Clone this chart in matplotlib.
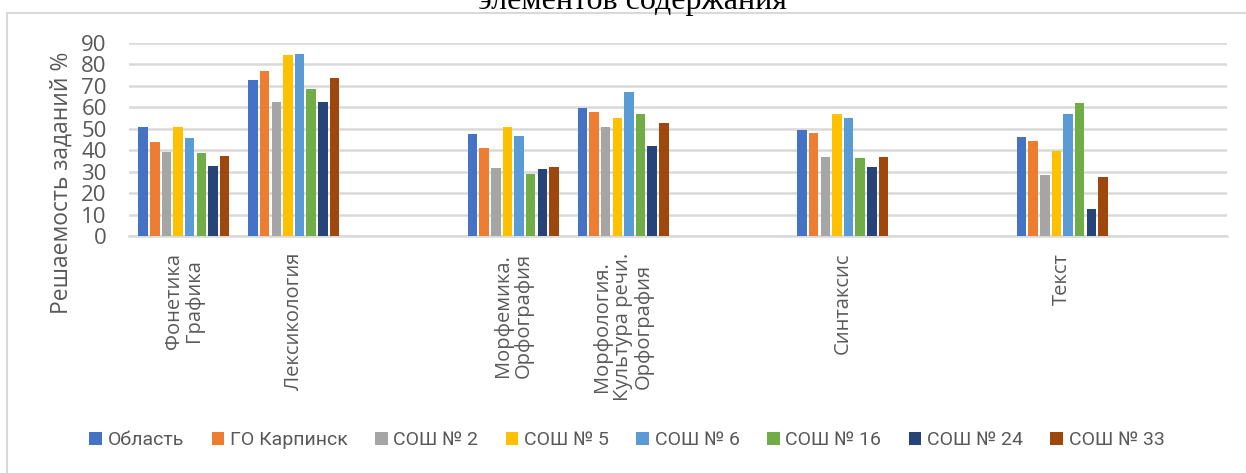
import numpy as np
import matplotlib.pyplot as plt
from matplotlib.patches import Rectangle

# Data
categories = ['Фонетика\nГрафика', 'Лексикология', '',
              'Морфемика.\nОрфография', 'Морфология.\nКультура речи.\nОрфография', '',
              'Синтаксис', '', 'Текст', '']
series = ['Область', 'ГО Карпинск', 'СОШ № 2', 'СОШ № 5', 'СОШ № 6',
          'СОШ № 16', 'СОШ № 24', 'СОШ № 33']
nan = np.nan
oblast = [51, 72.6, nan, 47.4, 59.6, nan, 49.3, nan, 46.0, nan]
karpinsk = [44, 76.8, nan, 41.2, 57.7, nan, 47.9, nan, 44.5, nan]
sosh2 = [39, 62.7, nan, 31.7, 50.7, nan, 36.7, nan, 28.3, nan]
sosh5 = [51, 84.6, nan, 50.6, 55.2, nan, 56.9, nan, 39.5, nan]
sosh6 = [45.6, 84.9, nan, 46.6, 67.0, nan, 55.2, nan, 56.8, nan]
sosh16 = [38.5, 68.7, nan, 29.1, 56.9, nan, 36.4, nan, 62.2, nan]
sosh24 = [32.5, 62.5, nan, 31.1, 42.0, nan, 32.2, nan, 12.5, nan]
sosh33 = [37.2, 73.5, nan, 32.4, 52.9, nan, 36.7, nan, 27.5, nan]
values = [oblast, karpinsk, sosh2, sosh5, sosh6, sosh16, sosh24, sosh33]
colors = ['#4472C4', '#ED7D31', '#A5A5A5', '#FFC000', '#5B9BD5',
          '#70AD47', '#264478', '#9E480E']

W, H = 1246, 473
fig = plt.figure(figsize=(W / 100, H / 100), dpi=100)
ax = fig.add_axes([129 / W, 1 - 236 / H, (1227 - 129) / W, (236 - 43) / H])

x = np.arange(len(categories))
pitch = 0.106
width = 0.086
for i, (name, vals, c) in enumerate(zip(series, values, colors)):
    ax.bar(x + (i - 3.5) * pitch, vals, width=width, color=c, label=name, zorder=3)

ax.set_xlim(-0.5, len(categories) - 0.5)
ax.set_ylim(0, 90)
ax.set_yticks(range(0, 91, 10))
ax.yaxis.grid(True, color='#D9D9D9', linewidth=1.8, zorder=0)
for s in ['top', 'right', 'left']:
    ax.spines[s].set_visible(False)
ax.spines['bottom'].set_color('#D9D9D9')
ax.spines['bottom'].set_linewidth(1.8)
ax.tick_params(axis='both', length=0)
ax.tick_params(axis='y', labelsize=16, labelcolor='#595959', pad=16)
for lab in ax.get_yticklabels():
    lab.set_fontfamily('Open Sans')

ax.set_xticks(x)
ax.set_xticklabels(categories, rotation=90, ha='center', va='top',
                   multialignment='center', fontsize=14.5, color='#595959',
                   family='Open Sans', linespacing=1.05)
ax.tick_params(axis='x', pad=12)

fig.text(62 / W, 1 - 183 / H, 'Решаемость заданий %', rotation=90,
         ha='center', va='center', fontsize=16.5, color='#595959', family='Open Sans')

fig.text(632 / W, 1 - 9 / H, 'элементов содержания', ha='center', va='baseline',
         fontsize=23, family='Liberation Serif', color='black')

fig.legend(loc='center', bbox_to_anchor=(627 / W, 1 - 440 / H), ncol=8,
           frameon=False, handlelength=0.65, handleheight=0.65,
           handletextpad=0.3, columnspacing=1.4,
           prop={'family': 'Roboto', 'size': 14}, labelcolor='#595959')

fig.patches.append(Rectangle((7 / W, -0.01), 1.02, 1 - 13 / H + 0.01,
                             transform=fig.transFigure, fill=False,
                             edgecolor='#D9D9D9', linewidth=1.5))

fig.savefig('out.png', dpi=100)
